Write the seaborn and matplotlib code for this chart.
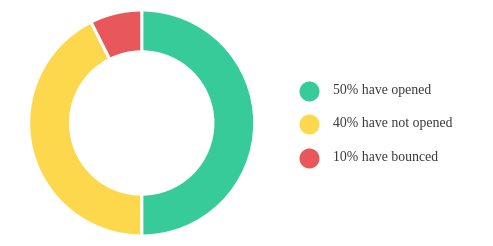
import matplotlib
matplotlib.use("Agg")
import matplotlib.pyplot as plt
import seaborn as sns

labels = ["50% have opened", "40% have not opened", "10% have bounced"]
values = [50, 42.6, 7.4]
colors = ["#36CB98", "#FDD84C", "#E8585A"]

sns.set_style("white")
plt.rcParams['font.family'] = ['Liberation Serif', 'DejaVu Serif']

W, H = 493, 246
fig = plt.figure(figsize=(W / 100, H / 100), dpi=100)
fig.patch.set_facecolor("white")

cx, cy, r = 141.7, 123, 113
ax = fig.add_axes([(cx - r) / W, (H - cy - r) / H, 2 * r / W, 2 * r / H])
ax.pie(values, colors=sns.color_palette(colors), startangle=90, counterclock=False,
       radius=1, wedgeprops=dict(width=0.37, edgecolor="white", linewidth=2.2))
ax.set_xlim(-1, 1)
ax.set_ylim(-1, 1)
ax.set_aspect("equal")
ax.axis("off")

lax = fig.add_axes([0, 0, 1, 1])
lax.set_xlim(0, W)
lax.set_ylim(H, 0)
lax.axis("off")
ys = [90.5, 124, 157.5]
for y, lab, c in zip(ys, labels, colors):
    lax.scatter([309], [y], s=(20 * 0.72) ** 2, color=c, linewidths=0)
    lax.text(333, y, lab, va="center", ha="left", fontsize=9.9, color="#3a3a3a")

fig.savefig("out.png", dpi=100, facecolor="white")
